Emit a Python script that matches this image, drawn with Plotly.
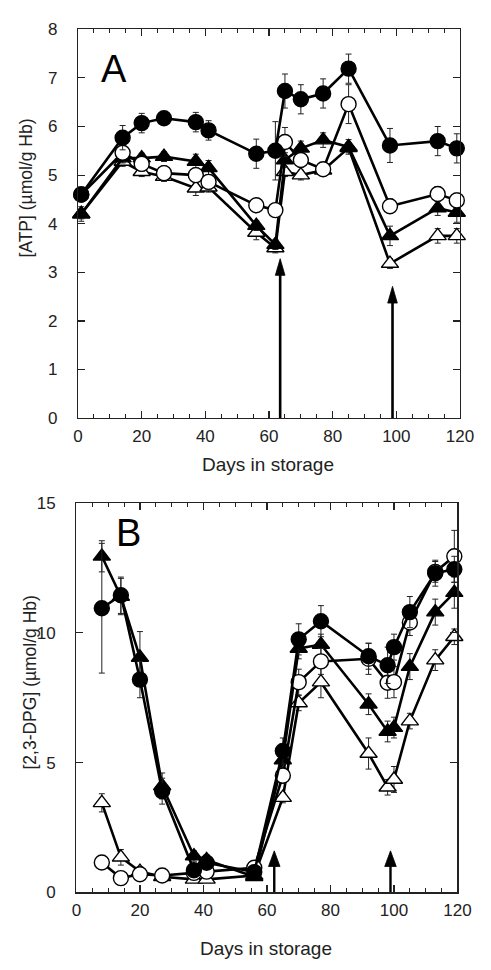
import plotly.graph_objects as go

# ---------------- data ----------------
days_A = [1, 14, 20, 27, 37, 41, 56, 62, 65, 70, 77, 85, 98, 113, 119]
atp_filled_circle = [4.6, 5.77, 6.07, 6.17, 6.09, 5.92, 5.44, 5.5, 6.73, 6.56, 6.68, 7.19, 5.61, 5.70, 5.55]
atp_filled_circle_err = [0.15, 0.25, 0.2, 0.1, 0.2, 0.2, 0.3, 0.6, 0.35, 0.3, 0.3, 0.3, 0.35, 0.3, 0.3]
atp_open_circle = [4.6, 5.46, 5.23, 5.04, 5.0, 4.86, 4.38, 4.28, 5.68, 5.31, 5.12, 6.46, 4.36, 4.61, 4.48]
atp_open_circle_err = [0.1, 0.1, 0.15, 0.15, 0.15, 0.15, 0.1, 0.1, 0.3, 0.15, 0.1, 0.4, 0.15, 0.15, 0.15]
atp_filled_tri = [4.2, 5.35, 5.35, 5.38, 5.28, 5.15, 3.96, 3.57, 5.31, 5.55, 5.72, 5.58, 3.75, 4.32, 4.23]
atp_filled_tri_err = [0.15, 0.1, 0.1, 0.1, 0.15, 0.15, 0.1, 0.1, 0.15, 0.15, 0.15, 0.15, 0.2, 0.15, 0.2]
atp_open_tri = [4.2, 5.28, 5.07, 4.97, 4.73, 4.75, 3.82, 3.5, 5.07, 5.0, 5.1, 5.56, 3.18, 3.75, 3.75]
atp_open_tri_err = [0.1, 0.1, 0.1, 0.1, 0.15, 0.1, 0.15, 0.1, 0.1, 0.1, 0.1, 0.1, 0.1, 0.15, 0.15]

days_B = [8, 14, 20, 27, 37, 41, 56, 65, 70, 77, 92, 98, 100, 105, 113, 119]
dpg_filled_circle = [10.95, 11.45, 8.2, 3.9, 0.85, 1.14, 0.78, 5.45, 9.75, 10.45, 9.1, 8.75, 9.45, 10.8, 12.3, 12.45]
dpg_filled_circle_err = [2.5, 0.7, 0.7, 0.5, 0.2, 0.2, 0.2, 0.5, 0.6, 0.6, 0.5, 0.7, 0.5, 0.6, 0.5, 0.5]
dpg_open_circle = [1.15, 0.55, 0.7, 0.65, 0.75, 0.8, 0.95, 4.5, 8.1, 8.9, 9.0, 8.08, 8.1, 10.4, 12.35, 12.95]
dpg_open_circle_err = [0.1, 0.1, 0.1, 0.1, 0.1, 0.1, 0.1, 0.3, 0.5, 0.5, 0.6, 0.6, 0.6, 0.5, 0.4, 1.0]
dpg_filled_tri = [12.95, 11.4, 9.05, 4.1, 1.4, 1.25, 0.6, 5.1, 9.4, 9.55, 7.25, 6.2, 6.35, 8.7, 10.8, 11.55]
dpg_filled_tri_err = [0.6, 0.7, 1.0, 0.5, 0.2, 0.2, 0.1, 0.3, 0.4, 0.4, 0.4, 0.4, 0.4, 0.5, 0.5, 0.6]
dpg_open_tri = [3.45, 1.35, 0.8, 0.6, 0.5, 0.5, 0.65, 3.65, 7.3, 8.1, 5.35, 4.05, 4.35, 6.6, 8.95, 9.85]
dpg_open_tri_err = [0.35, 0.3, 0.1, 0.1, 0.1, 0.1, 0.1, 0.2, 0.3, 0.6, 0.6, 0.3, 0.5, 0.3, 0.4, 0.3]

arrow_days_A = [63.5, 98.8]
arrow_tops_A = [3.28, 2.71]
arrow_days_B = [62.3, 98.9]
arrow_tops_B = [1.6, 1.6]

x_ticks = [0, 20, 40, 60, 80, 100, 120]
y_ticks_A = [0, 1, 2, 3, 4, 5, 6, 7, 8]
y_ticks_B = [0, 5, 10, 15]

# ---------------- figure ----------------
W, H = 491, 970
FONT = "Liberation Sans, Arial, Helvetica, sans-serif"

# plot-area pixel boxes (left, right, top, bottom)
BOX_A = (76.0, 473.3, 20.7, 417.3)
BOX_B = (74.3, 470.7, 504.0, 901.0)

fig = go.Figure()

styles = [
    ("open triangle", "triangle-up", "white", 15),
    ("filled triangle", "triangle-up", "black", 15),
    ("open circle", "circle", "white", 15),
    ("filled circle", "circle", "black", 15),
]

series_A = [(atp_open_tri, atp_open_tri_err), (atp_filled_tri, atp_filled_tri_err),
            (atp_open_circle, atp_open_circle_err), (atp_filled_circle, atp_filled_circle_err)]
series_B = [(dpg_open_tri, dpg_open_tri_err), (dpg_filled_tri, dpg_filled_tri_err),
            (dpg_open_circle, dpg_open_circle_err), (dpg_filled_circle, dpg_filled_circle_err)]

for (name, sym, fill, size), (vals, err) in zip(styles, series_A):
    fig.add_trace(go.Scatter(
        x=days_A, y=vals, mode="lines+markers", name=name, xaxis="x", yaxis="y",
        line=dict(color="black", width=2.6),
        marker=dict(symbol=sym, size=size, color=fill, line=dict(color="black", width=1.4)),
        error_y=dict(type="data", array=err, thickness=1, width=3, color="#222"),
        cliponaxis=False, showlegend=False))

for (name, sym, fill, size), (vals, err) in zip(styles, series_B):
    fig.add_trace(go.Scatter(
        x=days_B, y=vals, mode="lines+markers", name=name, xaxis="x2", yaxis="y2",
        line=dict(color="black", width=2.6),
        marker=dict(symbol=sym, size=size, color=fill, line=dict(color="black", width=1.4)),
        error_y=dict(type="data", array=err, thickness=1, width=3, color="#222"),
        cliponaxis=False, showlegend=False))

def px_x(p):
    return p / W

def px_y(p):
    return 1 - p / H

axis_common = dict(
    showline=True, linecolor="#222", linewidth=1.3, mirror="ticks",
    ticks="inside", ticklen=7, tickwidth=1.2, tickcolor="#222",
    showgrid=False, zeroline=False,
    tickfont=dict(family=FONT, size=17, color="#222"),
)

minor_x = dict(dtick=5, ticks="inside", ticklen=4, tickwidth=1, tickcolor="#222", showgrid=False)

XR = [0, 120]
YRA = [0, 8]
YRB = [0, 15]

xA = dict(axis_common, domain=[px_x(BOX_A[0]), px_x(BOX_A[1])], range=XR, anchor="y",
          tickvals=x_ticks, ticklabelstandoff=2, minor=minor_x)
yA = dict(axis_common, domain=[px_y(BOX_A[3]), px_y(BOX_A[2])], range=YRA, anchor="x",
          tickvals=y_ticks_A, ticklabelstandoff=16)
xB = dict(axis_common, domain=[px_x(BOX_B[0]), px_x(BOX_B[1])], range=XR, anchor="y2",
          tickvals=x_ticks, ticklabelstandoff=2, minor=minor_x)
yB = dict(axis_common, domain=[px_y(BOX_B[3]), px_y(BOX_B[2])], range=YRB, anchor="x2",
          tickvals=y_ticks_B, ticklabelstandoff=16)

outer_tick = dict(showline=False, ticks="outside", ticklen=4, tickwidth=1.2, tickcolor="#222",
                  showticklabels=False, showgrid=False, zeroline=False, mirror="ticks",
                  range=XR, tickvals=x_ticks)
xA_out = dict(outer_tick, overlaying="x", anchor="y")
xB_out = dict(outer_tick, overlaying="x2", anchor="y2")

# ---- arrows: shaft + narrow filled head (head size given in pixels) ----
def arrow_shapes(days, tops, xref, yref, box, xr, yr, head_h_px, head_hw_px, shaft_w):
    ppx = (box[1] - box[0]) / (xr[1] - xr[0])
    ppy = (box[3] - box[2]) / (yr[1] - yr[0])
    hh = head_h_px / ppy
    hw = head_hw_px / ppx
    out = []
    for d, t in zip(days, tops):
        out.append(dict(type="line", xref=xref, yref=yref, x0=d, x1=d, y0=yr[0], y1=t - hh * 0.8,
                        line=dict(color="black", width=shaft_w), layer="above"))
        out.append(dict(type="path", xref=xref, yref=yref,
                        path=f"M {d - hw},{t - hh} L {d},{t} L {d + hw},{t - hh} Z",
                        fillcolor="black", line=dict(color="black", width=0.8), layer="above"))
    return out

shapes = []
shapes += arrow_shapes(arrow_days_A, arrow_tops_A, "x", "y", BOX_A, XR, YRA, 17, 5.0, 2.6)
shapes += arrow_shapes(arrow_days_B, arrow_tops_B, "x2", "y2", BOX_B, XR, YRB, 16, 6.0, 2.4)

annotations = []
annotations.append(dict(x=px_x(113.5), y=px_y(61), xref="paper", yref="paper", text="A",
                        showarrow=False, font=dict(family=FONT, size=38, color="black"),
                        xanchor="center", yanchor="middle"))
annotations.append(dict(x=px_x(128.5), y=px_y(534), xref="paper", yref="paper", text="B",
                        showarrow=False, font=dict(family=FONT, size=38, color="black"),
                        xanchor="center", yanchor="middle"))

annotations.append(dict(x=px_x(274), y=px_y(465), xref="paper", yref="paper", text="Days in storage",
                        showarrow=False, font=dict(family=FONT, size=19, color="#222"),
                        xanchor="center", yanchor="middle"))
annotations.append(dict(x=px_x(272), y=px_y(958), xref="paper", yref="paper", text="Days in storage",
                        showarrow=False, font=dict(family=FONT, size=19, color="#222"),
                        xanchor="center", yanchor="middle"))
annotations.append(dict(x=px_x(22), y=px_y(183), xref="paper", yref="paper", text="[ATP] (µmol/g Hb)",
                        showarrow=False, textangle=-90, font=dict(family=FONT, size=17.5, color="#222"),
                        xanchor="center", yanchor="middle"))
annotations.append(dict(x=px_x(26), y=px_y(687), xref="paper", yref="paper", text="[2,3-DPG] (µmol/g Hb)",
                        showarrow=False, textangle=-90, font=dict(family=FONT, size=17.5, color="#222"),
                        xanchor="center", yanchor="middle"))

fig.update_layout(
    width=W, height=H,
    margin=dict(l=0, r=0, t=0, b=0),
    paper_bgcolor="white", plot_bgcolor="white",
    xaxis=xA, yaxis=yA, xaxis2=xB, yaxis2=yB,
    xaxis3=xA_out, xaxis4=xB_out,
    shapes=shapes,
    annotations=annotations,
    showlegend=False,
    hovermode=False,
    font=dict(family=FONT, color="#222"),
)

fig.write_html("out.html", config={"displayModeBar": False, "staticPlot": True},
               post_script="document.body.style.margin='0px';document.body.style.overflow='hidden';")
